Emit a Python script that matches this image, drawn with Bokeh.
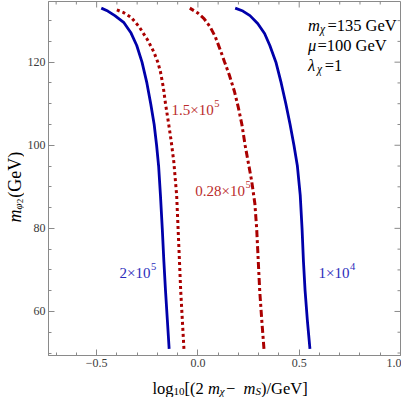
import math
from bokeh.plotting import figure
from bokeh.layouts import row, column
from bokeh.models import Range1d, FixedTicker, Label
from bokeh.core.properties import value
from bokeh.embed import file_html
from bokeh.resources import INLINE

# ---------------- data ----------------
y_2e5 = [51, 58, 65, 72, 80, 88, 95, 100, 105, 110, 115, 120, 124, 127, 129.5, 131.2, 132.3, 133]
x_2e5 = [-0.142, -0.151, -0.160, -0.168, -0.176, -0.185, -0.194, -0.204, -0.216, -0.233, -0.252,
         -0.276, -0.302, -0.330, -0.365, -0.410, -0.445, -0.477]
y_15e5 = [51, 58, 65, 72, 80, 88, 96, 101, 105.3, 110, 114, 117.7, 120, 122.5, 125.4, 128.5, 130.8, 132, 132.7]
x_15e5 = [-0.069, -0.077, -0.085, -0.091, -0.098, -0.105, -0.119, -0.132, -0.145, -0.160, -0.171,
          -0.185, -0.198, -0.218, -0.249, -0.290, -0.330, -0.370, -0.407]
y_028e5 = [51, 58, 65, 72, 80, 86, 91.5, 100, 105, 109.2, 113, 116.9, 120, 123, 126.2, 128.5, 130.5, 131.9, 133]
x_028e5 = [0.326, 0.315, 0.305, 0.298, 0.290, 0.281, 0.265, 0.233, 0.217, 0.199, 0.180, 0.155,
           0.132, 0.110, 0.085, 0.060, 0.030, -0.003, -0.040]
y_1e4 = [51, 58, 65, 72, 80, 88, 95, 100, 105, 110, 115, 120, 124, 126.9, 129.3, 131.2, 132.3, 133]
x_1e4 = [0.553, 0.540, 0.529, 0.521, 0.514, 0.505, 0.491, 0.474, 0.455, 0.434, 0.411, 0.385,
         0.355, 0.329, 0.295, 0.257, 0.222, 0.184]

lab_base = ["2\u00d710", "1.5\u00d710", "0.28\u00d710", "1\u00d710"]
lab_exp = ["5", "5", "5", "4"]
lab_x = [-0.2346, 0.0785, 0.2327, 0.748]
lab_y = [69.2, 108.5, 88.9, 69.2]
lab_kind = ["blue", "red", "red", "blue"]

x_ticks = [-0.5, 0.0, 0.5, 1.0]
x_tick_labels = ["\u22120.5", "0.0", "0.5", "1.0"]
x_minor = [-0.7, -0.6, -0.4, -0.3, -0.2, -0.1, 0.1, 0.2, 0.3, 0.4, 0.6, 0.7, 0.8, 0.9]
y_ticks = [60, 80, 100, 120]
y_tick_labels = ["60", "80", "100", "120"]
y_minor = [50, 55, 65, 70, 75, 85, 90, 95, 105, 110, 115, 125, 130]

# ---------------- style / layout ----------------
FONT = "Liberation Serif"
BLUE = "#0000aa"
RED = "#aa0000"
BLUE_T = "#2b2bbb"
RED_T = "#bb2b2b"
GRAY = "#8a8a8a"

X0, X1 = -0.7376, 1.0
Y0, Y1 = 49.4, 134.6
YLAB_W = 24
MAIN_W, MAIN_H = 401 - YLAB_W, 372
XLAB_H = 397 - MAIN_H
BL, BR, BT, BB = 24, 1, 1, 17
FW, FH = MAIN_W - BL - BR, MAIN_H - BT - BB
PXX = FW / (X1 - X0)
PXY = FH / (Y1 - Y0)
MAJ, MIN = 6, 3

p = figure(width=MAIN_W, height=MAIN_H, x_range=Range1d(X0, X1), y_range=Range1d(Y0, Y1),
           output_backend="svg", toolbar_location=None, frame_align=False,
           min_border_left=BL, min_border_right=BR, min_border_top=BT, min_border_bottom=BB)
p.grid.visible = False
p.background_fill_color = "white"
p.border_fill_color = "white"
p.outline_line_color = GRAY
p.outline_line_width = 1

xt = FixedTicker(ticks=x_ticks, minor_ticks=x_minor)
yt = FixedTicker(ticks=y_ticks, minor_ticks=y_minor)
p.xaxis.ticker = xt
p.yaxis.ticker = yt
p.xaxis.major_label_overrides = {float(t): s for t, s in zip(x_ticks, x_tick_labels)}
p.yaxis.major_label_overrides = {t: s for t, s in zip(y_ticks, y_tick_labels)}
for ax in list(p.xaxis) + list(p.yaxis):
    ax.axis_line_color = GRAY
    ax.major_tick_line_color = GRAY
    ax.minor_tick_line_color = GRAY
    ax.major_tick_in = MAJ
    ax.major_tick_out = 0
    ax.minor_tick_in = MIN
    ax.minor_tick_out = 0
    ax.major_label_text_font = FONT
    ax.major_label_text_color = "#3a3a3a"
    ax.major_label_text_font_size = "12px"
    ax.major_label_standoff = 3

# mirrored ticks on the top and right edges of the frame
tx = x_ticks + x_minor
tl = [MAJ] * len(x_ticks) + [MIN] * len(x_minor)
p.segment(x0=tx, y0=[Y1] * len(tx), x1=tx, y1=[Y1 - l / PXY for l in tl],
          line_color=GRAY, line_width=1)
ty = y_ticks + y_minor
tl = [MAJ] * len(y_ticks) + [MIN] * len(y_minor)
p.segment(x0=[X1] * len(ty), y0=ty, x1=[X1 - l / PXX for l in tl], y1=ty,
          line_color=GRAY, line_width=1)

# ---------------- curves ----------------
p.line(x_2e5, y_2e5, line_color=BLUE, line_width=2.8)
p.line(x_15e5, y_15e5, line_color=RED, line_width=3, line_dash="3 3")
p.line(x_028e5, y_028e5, line_color=RED, line_width=3, line_dash="7 3 3 3")
p.line(x_1e4, y_1e4, line_color=BLUE, line_width=2.8)


def lab(x, y, text, size, color="black", italic=False, dx=0.0, dy=0.0, align="left"):
    """x, y in data units; dx, dy extra pixels (dy positive = down)"""
    p.add_layout(Label(x=x + dx / PXX, y=y - dy / PXY, text=text, text_font=FONT,
                       text_font_size=f"{size}px", text_color=color,
                       text_font_style="italic" if italic else "normal",
                       text_align=align, text_baseline="alphabetic"))


for b, e, x, y, k in zip(lab_base, lab_exp, lab_x, lab_y, lab_kind):
    col = BLUE_T if k == "blue" else RED_T
    lab(x, y, b, 15, col, align="right")
    lab(x, y, e, 10.5, col, dx=0.5, dy=-6.5)

# parameter box (top right)
BIG, SUB = 16.5, 11.5
ax0 = 0.543
lab(ax0, 128.9, "m", BIG, italic=True)
lab(ax0, 128.9, "\u03c7", SUB, italic=True, dx=12.0, dy=3.5)
lab(ax0, 128.9, "=135 GeV", BIG, dx=19.5)
lab(ax0, 124.0, "\u03bc", BIG, italic=True)
lab(ax0, 124.0, "=100 GeV", BIG, dx=9.5)
lab(ax0, 119.3, "\u03bb", BIG, italic=True)
lab(ax0, 119.3, "\u03c7", SUB, italic=True, dx=9.2, dy=3.5)
lab(ax0, 119.3, "=1", BIG, dx=16.8)


def text_fig(w, h):
    f = figure(width=w, height=h, x_range=Range1d(0, w), y_range=Range1d(0, h),
               output_backend="svg", toolbar_location=None, x_axis_type=None, y_axis_type=None,
               min_border=0, min_border_left=0, min_border_right=0, min_border_top=0,
               min_border_bottom=0, title=None, frame_align=False)
    f.outline_line_color = None
    f.background_fill_color = "white"
    f.border_fill_color = "white"
    f.grid.visible = False
    return f


AT, AS, ASS = 16.5, 11, 9

# x-axis title: log10[(2 m_chi - m_S)/GeV]
xf = text_fig(401, XLAB_H)
base = XLAB_H - 15.5  # baseline, measured upward from the bottom edge
px = 152.0
pieces = [("log", AT, False, 0, 1.278 * AT), ("10", AS, False, 3, 1.0 * AS),
          ("[(2 ", AT, False, 0, 1.416 * AT), ("m", AT, True, 0, 0.722 * AT),
          ("\u03c7", AS, True, 3, 0.56 * AS), (" \u2212 ", AT, False, 0, 1.064 * AT),
          ("m", AT, True, 0, 0.722 * AT), ("S", AS, True, 3, 0.5 * AS),
          (")/GeV]", AT, False, 0, 2.832 * AT)]
for t, s, it, d, w in pieces:
    xf.text(x=[px], y=[base - d], text=[t], text_font=value(FONT), text_font_size=f"{s}px",
            text_font_style="italic" if it else "normal", text_color="black",
            text_align="left", text_baseline="alphabetic")
    px += w

# y-axis title (rotated): m_{phi_2} (GeV)
AY = 18
yf = text_fig(YLAB_W, MAIN_H)
py = 222.0  # from top
ypieces = [("m", AY, True, 0, 0.722 * AY), ("\u03c6", AS, True, 3.5, 0.56 * AS),
           ("2", ASS, False, 5.5, 0.5 * ASS + 1), (" (GeV)", AY, False, 0, 2.804 * AY)]
for t, s, it, d, w in ypieces:
    yf.text(x=[14 + d], y=[MAIN_H - py], text=[t], text_font=value(FONT), text_font_size=f"{s}px",
            text_font_style="italic" if it else "normal", text_color="black",
            text_align="left", text_baseline="alphabetic", angle=math.pi / 2)
    py -= w

layout = column(row(yf, p), xf)
open("out.html", "w").write(file_html(layout, INLINE))
